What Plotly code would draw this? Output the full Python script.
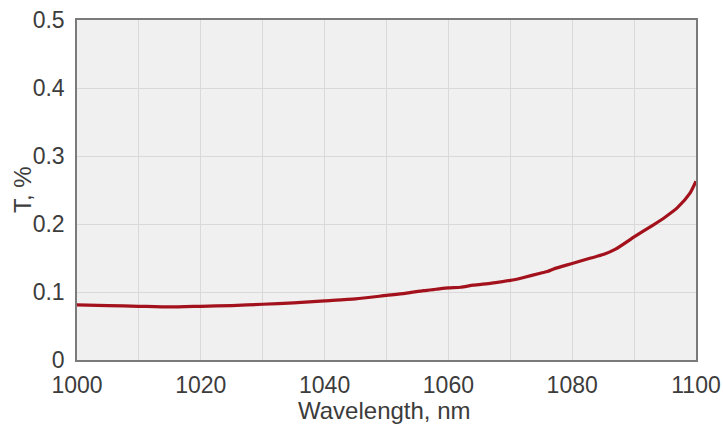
import plotly.graph_objects as go

# Transmission spectrum, wavelength in nm vs T in %
wavelength = [1000, 1005, 1010, 1015, 1020, 1025, 1030, 1035, 1040, 1045, 1050, 1053, 1056,
              1058, 1060, 1062, 1064, 1067, 1070, 1072, 1075, 1076, 1077, 1080, 1083, 1085,
              1087, 1090, 1093, 1095, 1097, 1099, 1100]
transmission = [0.081, 0.080, 0.079, 0.078, 0.079, 0.080, 0.082, 0.084, 0.087, 0.090, 0.095,
                0.098, 0.102, 0.104, 0.106, 0.107, 0.110, 0.113, 0.117, 0.121, 0.128, 0.130,
                0.134, 0.142, 0.150, 0.155, 0.163, 0.181, 0.198, 0.210, 0.224, 0.245, 0.263]

x_ticks = [1000, 1020, 1040, 1060, 1080, 1100]
y_ticks = [0, 0.1, 0.2, 0.3, 0.4, 0.5]
x_title = "Wavelength, nm"
y_title = "T, %"

fig = go.Figure()
fig.add_trace(go.Scatter(
    x=wavelength, y=transmission, mode="lines",
    line=dict(color="#a3121c", width=3.2, shape="spline", smoothing=0.6),
    hoverinfo="x+y",
))

font = dict(family="Liberation Sans, Arial, sans-serif", color="#3c3c3c")

fig.update_layout(
    width=723, height=425,
    margin=dict(l=77, r=27, t=20, b=65),
    paper_bgcolor="white",
    plot_bgcolor="#f0f0f0",
    showlegend=False,
    font=font,
    xaxis=dict(
        range=[1000, 1100], tickvals=x_ticks, ticktext=[str(v) for v in x_ticks],
        tickfont=dict(size=23), ticks="outside", ticklen=4, tickcolor="rgba(0,0,0,0)",
        showgrid=False,
        minor=dict(dtick=10, showgrid=True, gridcolor="#d9d9d9", gridwidth=1),
        showline=True, linecolor="#7a7a7a", linewidth=1.5, mirror=True,
        zeroline=False, automargin=False,
    ),
    yaxis=dict(
        range=[0, 0.5], tickvals=y_ticks, ticktext=["0", "0.1", "0.2", "0.3", "0.4", "0.5"],
        tickfont=dict(size=23), ticks="outside", ticklen=6, tickcolor="rgba(0,0,0,0)",
        showgrid=True, gridcolor="#d9d9d9", gridwidth=1,
        showline=True, linecolor="#7a7a7a", linewidth=1.5, mirror=True,
        zeroline=False, automargin=False,
    ),
    annotations=[
        dict(text=x_title, xref="paper", yref="paper", x=0.497, y=0,
             yshift=-50, xanchor="center", yanchor="middle",
             showarrow=False, font=dict(size=24)),
        dict(text=y_title, xref="paper", yref="paper", x=0, y=0.5,
             xshift=-55, xanchor="center", yanchor="middle", textangle=-90,
             showarrow=False, font=dict(size=24)),
    ],
)

fig.write_html("out.html")
